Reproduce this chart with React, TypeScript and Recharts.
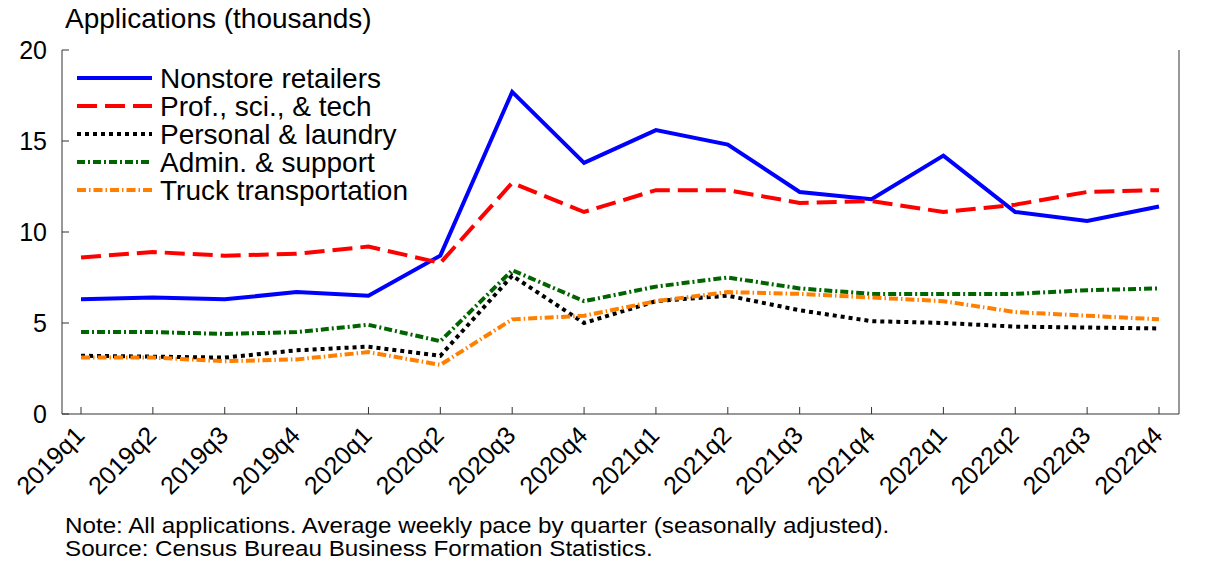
import React from 'react';
import { LineChart, Line, XAxis, YAxis, Legend } from 'recharts';

const quarters = [
  '2019q1', '2019q2', '2019q3', '2019q4',
  '2020q1', '2020q2', '2020q3', '2020q4',
  '2021q1', '2021q2', '2021q3', '2021q4',
  '2022q1', '2022q2', '2022q3', '2022q4',
];

const nonstore = [6.3, 6.4, 6.3, 6.7, 6.5, 8.7, 17.7, 13.8, 15.6, 14.8, 12.2, 11.8, 14.2, 11.1, 10.6, 11.4];
const profSciTech = [8.6, 8.9, 8.7, 8.8, 9.2, 8.3, 12.7, 11.1, 12.3, 12.3, 11.6, 11.7, 11.1, 11.5, 12.2, 12.3];
const personal = [3.2, 3.15, 3.1, 3.5, 3.7, 3.2, 7.6, 5.0, 6.2, 6.5, 5.7, 5.1, 5.0, 4.8, 4.75, 4.7];
const admin = [4.5, 4.5, 4.4, 4.5, 4.9, 4.0, 7.9, 6.2, 7.0, 7.5, 6.9, 6.6, 6.6, 6.6, 6.8, 6.9];
const truck = [3.1, 3.1, 2.9, 3.0, 3.4, 2.7, 5.2, 5.4, 6.2, 6.7, 6.6, 6.4, 6.2, 5.6, 5.4, 5.2];

const yTicks = [0, 5, 10, 15, 20];

const data = quarters.map((q, i) => ({
  q,
  nonstore: nonstore[i],
  prof: profSciTech[i],
  personal: personal[i],
  admin: admin[i],
  truck: truck[i],
}));

const FONT = '"Liberation Sans", Arial, Helvetica, sans-serif';

const series = [
  { key: 'nonstore', name: 'Nonstore retailers', color: '#0000ff', dash: undefined as string | undefined },
  { key: 'prof', name: 'Prof., sci., & tech', color: '#ff0000', dash: '20 8' },
  { key: 'personal', name: 'Personal & laundry', color: '#000000', dash: '4 4' },
  { key: 'admin', name: 'Admin. & support', color: '#006400', dash: '8 3 2 3' },
  { key: 'truck', name: 'Truck transportation', color: '#ff8000', dash: '9 3 1.5 3' },
];

const XTick = (props: any) => {
  const { x, payload } = props;
  return (
    <g transform={`translate(${x + 5},${437})`}>
      <text
        transform="rotate(-45)"
        textAnchor="end"
        fontSize={25}
        fontFamily={FONT}
        fill="#000"
      >
        {payload.value}
      </text>
    </g>
  );
};

const renderLegend = () => (
  <svg width={370} height={145} style={{ display: 'block' }}>
    {series.map((s, i) => {
      const cy = 14 + i * 28;
      return (
        <g key={s.key}>
          <line
            x1={2}
            x2={77}
            y1={cy}
            y2={cy}
            stroke={s.color}
            strokeWidth={4}
            strokeDasharray={s.dash}
          />
          <text
            x={85}
            y={cy + 10}
            fontSize={28}
            fontFamily={FONT}
            fill="#000"
          >
            {s.name}
          </text>
        </g>
      );
    })}
  </svg>
);

export default function App() {
  return (
    <div style={{ position: 'absolute', left: 0, top: 0, width: 1225, height: 562, background: '#fff', fontFamily: FONT }}>
      <div style={{ position: 'absolute', left: 65, top: 3, fontSize: 28, color: '#000', whiteSpace: 'nowrap' }}>
        Applications (thousands)
      </div>
      <LineChart
        width={1225}
        height={562}
        data={data}
        margin={{ top: 50, right: 0, left: 0, bottom: 48 }}
      >
        <XAxis
          dataKey="q"
          height={100}
          padding={{ left: 19, right: 20 }}
          stroke="#333"
          tickSize={-7}
          tickMargin={0}
          interval={0}
          tick={<XTick />}
        />
        <YAxis
          yAxisId="left"
          domain={[0, 20]}
          ticks={yTicks}
          width={62}
          stroke="#333"
          tickSize={-7}
          tickMargin={22}
          tick={{ fill: '#000', fontSize: 25, fontFamily: FONT }}
        />
        <YAxis
          yAxisId="right"
          orientation="right"
          domain={[0, 20]}
          ticks={yTicks}
          width={46}
          stroke="#333"
          tickSize={-7}
          tickMargin={18}
          tick={{ fill: '#000', fontSize: 25, fontFamily: FONT, textAnchor: 'start' }}
        />
        <Legend
          layout="vertical"
          align="center"
          verticalAlign="middle"
          content={renderLegend}
          wrapperStyle={{ left: 75, top: 64, width: 370, height: 145 }}
        />
        {series.map((s) => (
          <Line
            key={s.key}
            yAxisId="left"
            type="linear"
            dataKey={s.key}
            name={s.name}
            stroke={s.color}
            strokeWidth={4}
            strokeDasharray={s.dash}
            dot={false}
            activeDot={false}
            isAnimationActive={false}
          />
        ))}
      </LineChart>
      <div
        style={{
          position: 'absolute',
          left: 65,
          top: 514,
          fontSize: 22,
          lineHeight: '23px',
          color: '#000',
          whiteSpace: 'nowrap',
          transform: 'scaleX(1.1)',
          transformOrigin: 'left top',
        }}
      >
        <div>Note: All applications. Average weekly pace by quarter (seasonally adjusted).</div>
        <div>Source: Census Bureau Business Formation Statistics.</div>
      </div>
    </div>
  );
}
